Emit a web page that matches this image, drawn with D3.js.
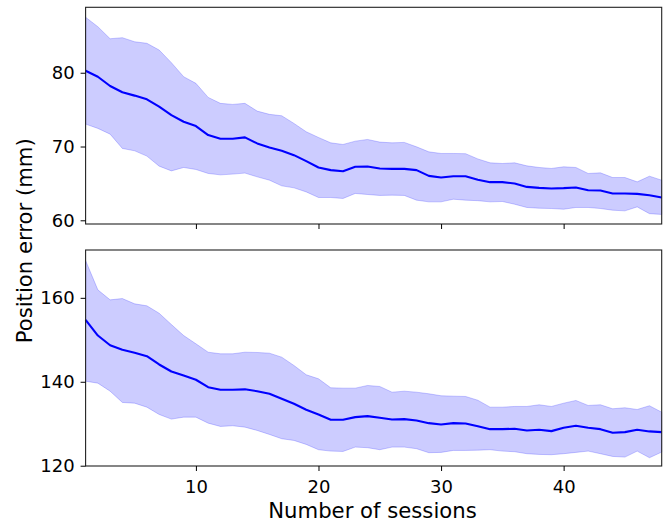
<!DOCTYPE html>
<html>
<head>
  <meta charset="utf-8">
  <title>Position error per session</title>
  <script src="https://cdn.jsdelivr.net/npm/d3@7"></script>
  <style>
    body { margin: 0; background: #fff; }
    text { font-family: "DejaVu Sans", sans-serif; fill: #000; }
    .axis path, .axis line { stroke: #000; }
  </style>
</head>
<body>
<svg width="671" height="523"></svg>
<script>
  // sessions 1..48
  const sessions = d3.range(1, 49);

  // upper panel
  const meanA = [80.27, 79.46, 78.2, 77.35, 76.9, 76.4, 75.4, 74.26, 73.36, 72.77,
    71.55, 71.05, 71.05, 71.24, 70.42, 69.88, 69.42, 68.83, 68.02, 67.16,
    66.8, 66.66, 67.25, 67.3, 67.03, 66.97, 66.97, 66.8, 66.02, 65.8,
    65.98, 65.98, 65.5, 65.17, 65.17, 64.99, 64.53, 64.4, 64.31, 64.36,
    64.45, 64.08, 64.04, 63.64, 63.64, 63.58, 63.4, 63.09];
  const upperA = [87.52, 86.24, 84.61, 84.75, 84.2, 83.99, 83.08, 81.36, 79.46, 78.56,
    76.66, 75.85, 75.71, 75.85, 74.8, 74.36, 74.17, 73.13, 72.0, 71.23,
    70.5, 70.28, 70.73, 70.96, 70.6, 70.5, 70.56, 69.96, 69.28, 69.06,
    69.06, 69.03, 68.32, 67.79, 67.7, 67.79, 67.38, 67.16, 67.03, 67.25,
    67.16, 66.35, 66.43, 65.8, 65.8, 65.21, 65.98, 65.44];
  const lowerA = [73.04, 72.46, 71.68, 69.74, 69.42, 68.7, 67.34, 66.7, 67.16, 66.89,
    66.35, 66.16, 66.26, 66.4, 65.89, 65.44, 64.67, 64.4, 63.85, 63.09,
    63.09, 62.96, 63.64, 63.5, 63.37, 63.41, 63.37, 62.73, 62.5, 62.5,
    62.86, 62.73, 62.66, 62.5, 62.55, 62.18, 61.74, 61.64, 61.6, 61.5,
    61.74, 61.74, 61.6, 61.37, 61.28, 61.82, 60.9, 60.8];

  // lower panel
  const meanB = [154.76, 151.02, 148.71, 147.62, 146.9, 146.1, 144.12, 142.45, 141.5, 140.48,
    138.71, 138.1, 138.1, 138.2, 137.76, 137.14, 135.95, 134.76, 133.33, 132.21,
    130.95, 130.95, 131.57, 131.81, 131.43, 131.02, 131.1, 130.79, 130.14, 129.83,
    130.14, 130.07, 129.4, 128.71, 128.71, 128.81, 128.4, 128.57, 128.24, 129.05,
    129.52, 129.05, 128.71, 127.86, 128.0, 128.57, 128.17, 128.0];
  const upperB = [168.88, 161.9, 159.52, 159.83, 158.57, 158.1, 156.33, 153.64, 151.02, 149.05,
    147.05, 146.67, 146.67, 147.05, 146.98, 146.81, 145.86, 143.88, 141.67, 140.71,
    138.57, 138.48, 138.48, 139.12, 138.88, 137.52, 137.76, 137.52, 137.14, 136.67,
    136.57, 136.5, 135.6, 133.95, 133.95, 134.12, 134.12, 134.52, 134.12, 134.9,
    135.55, 134.36, 134.52, 133.57, 133.81, 133.4, 134.29, 132.76];
  const lowerB = [140.14, 139.67, 137.76, 135.07, 134.9, 133.95, 132.21, 131.1, 131.57, 131.57,
    130.14, 129.36, 129.52, 129.19, 128.4, 127.45, 126.43, 126.02, 125.07, 123.81,
    123.48, 123.4, 124.43, 124.29, 123.81, 124.43, 124.43, 124.05, 123.1, 123.17,
    123.64, 123.64, 123.7, 123.81, 123.48, 123.33, 122.86, 122.69, 122.62, 122.86,
    123.17, 123.48, 122.86, 122.21, 122.05, 123.48, 121.9, 123.24];

  const xTicks = [10, 20, 30, 40];
  const yTicksA = [60, 70, 80];
  const yTicksB = [120, 140, 160];

  const svg = d3.select('svg');
  const left = 85.6, right = 661.7;

  const x = d3.scaleLinear().domain([1, 48]).range([left, right]);

  const panels = [
    {mean: meanA, upper: upperA, lower: lowerA, top: 7.3, bottom: 224, domain: [59.5, 88.87], ticks: yTicksA, labels: false},
    {mean: meanB, upper: upperB, lower: lowerB, top: 250, bottom: 466, domain: [119.93, 171.4], ticks: yTicksB, labels: true}
  ];

  panels.forEach(p => {
    const y = d3.scaleLinear().domain(p.domain).range([p.bottom, p.top]);
    const g = svg.append('g');

    const area = d3.area()
      .x((d, i) => x(sessions[i]))
      .y0((d, i) => y(p.lower[i]))
      .y1((d, i) => y(p.upper[i]));
    g.append('path')
      .attr('d', area(sessions))
      .attr('fill', 'rgba(0,0,255,0.2)')
      .attr('stroke', 'rgba(0,0,255,0.2)')
      .attr('stroke-width', 1);

    const line = d3.line()
      .x((d, i) => x(sessions[i]))
      .y((d, i) => y(p.mean[i]));
    g.append('path')
      .attr('d', line(sessions))
      .attr('fill', 'none')
      .attr('stroke', '#0000ff')
      .attr('stroke-width', 2.1)
      .attr('stroke-linejoin', 'round');

    // frame
    g.append('rect')
      .attr('x', left).attr('y', p.top)
      .attr('width', right - left).attr('height', p.bottom - p.top)
      .attr('fill', 'none').attr('stroke', '#222').attr('stroke-width', 1.1);

    const xAxis = d3.axisBottom(x).tickValues(xTicks).tickSize(5).tickPadding(6)
      .tickFormat(p.labels ? d3.format('d') : () => '');
    g.append('g').attr('class', 'axis')
      .attr('transform', `translate(0,${p.bottom})`)
      .call(xAxis)
      .call(a => a.select('.domain').remove())
      .selectAll('text').style('font-size', '18px').attr('dy', '0.9em');

    const yAxis = d3.axisLeft(y).tickValues(p.ticks).tickSize(5).tickPadding(6)
      .tickFormat(d3.format('d'));
    g.append('g').attr('class', 'axis')
      .attr('transform', `translate(${left},0)`)
      .call(yAxis)
      .call(a => a.select('.domain').remove())
      .selectAll('text').style('font-size', '18px');
  });

  svg.append('text')
    .attr('x', 372.5).attr('y', 517.7)
    .attr('text-anchor', 'middle')
    .style('font-size', '21.2px')
    .text('Number of sessions');

  svg.append('text')
    .attr('transform', 'translate(31.5,240.8) rotate(-90)')
    .attr('text-anchor', 'middle')
    .style('font-size', '21.2px')
    .text('Position error (mm)');
</script>
</body>
</html>
